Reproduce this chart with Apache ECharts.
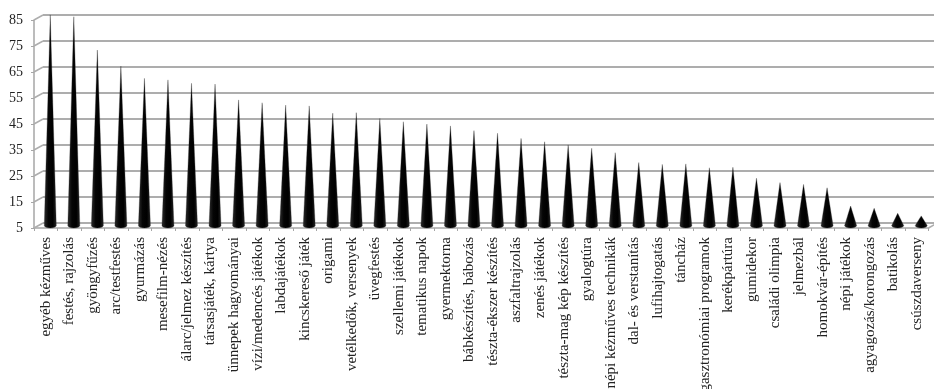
<!DOCTYPE html>
<html>
<head>
<meta charset="utf-8">
<script src="https://cdn.jsdelivr.net/npm/echarts@6/dist/echarts.min.js"></script>
<style>
  html, body { margin: 0; padding: 0; background: #fff; }
  #chart { width: 934px; height: 389px; }
</style>
</head>
<body>
<div id="chart"></div>
<script>
// Activities, most popular first
const categories = [
  'egyéb kézműves', 'festés, rajzolás', 'gyöngyfűzés', 'arc/testfestés', 'gyurmázás',
  'mesefilm-nézés', 'álarc/jelmez készítés', 'társasjáték, kártya', 'ünnepek hagyományai',
  'vízi/medencés játékok', 'labdajátékok', 'kincskereső játék', 'origami',
  'vetélkedők, versenyek', 'üvegfestés', 'szellemi játékok', 'tematikus napok',
  'gyermektorna', 'bábkészítés, bábozás', 'tészta-ékszer készítés', 'aszfaltrajzolás',
  'zenés játékok', 'tészta-mag kép készítés', 'gyalogtúra', 'népi kézműves technikák',
  'dal- és verstanítás', 'lufihajtogatás', 'táncház', 'gasztronómiai programok',
  'kerékpártúra', 'gumidekor', 'családi olimpia', 'jelmezbál', 'homokvár-építés',
  'népi játékok', 'agyagozás/korongozás', 'batikolás', 'csúszdaverseny'
];
const values = [
  86, 85.3, 72.5, 66.3, 61.6, 61, 59.7, 59.4, 53.3, 52.2, 51.3, 51,
  48.2, 48.4, 46.2, 44.9, 44, 43.3, 41.5, 40.5, 38.5, 37.2, 36, 34.7, 33,
  29.2, 28.5, 28.7, 27.2, 27.4, 23.2, 21.5, 20.8, 19.5, 12.5, 11.6, 9.7, 8.7
];
const yMin = 5, yMax = 85, yStep = 10;
const yTicks = [5, 15, 25, 35, 45, 55, 65, 75, 85];

// depth of the box: back wall sits up and right of the front edge
const DX = 9, DY = -5;
const CONE_R = 6;
const FONT = '"Liberation Serif", "Times New Roman", serif';
const GRID_COLOR = '#adadad';

const plotW = 894.5, plotH = 208;

const chart = echarts.init(document.getElementById('chart'), null, { renderer: 'canvas' });

const valueAxisBase = { type: 'value', min: yMin, max: yMax, interval: yStep };
const gridBase = { width: plotW, height: plotH, containLabel: false, outerBoundsMode: 'none' };

chart.setOption({
  backgroundColor: '#ffffff',
  animation: false,
  grid: [
    Object.assign({ left: 34, top: 20 }, gridBase),                     // front edge
    Object.assign({ left: 34 + DX / 2, top: 20 + DY / 2 }, gridBase),   // mid depth (cones)
    Object.assign({ left: 34 + DX, top: 20 + DY }, gridBase)            // back wall
  ],
  xAxis: [
    {
      type: 'category', gridIndex: 0, data: categories,
      axisLine: { show: true, lineStyle: { color: '#a6a6a6', width: 1.5 } },
      axisTick: { show: true, length: 3, lineStyle: { color: '#a6a6a6' } },
      axisLabel: {
        interval: 0, rotate: 90, margin: 9, hideOverlap: false,
        fontFamily: FONT, fontSize: 15, color: '#222222'
      },
      splitLine: { show: false }
    },
    { type: 'category', gridIndex: 1, data: categories, show: false },
    { type: 'category', gridIndex: 2, data: categories, show: false }
  ],
  yAxis: [
    Object.assign({}, valueAxisBase, {
      gridIndex: 0,
      axisLine: { show: true, lineStyle: { color: '#a6a6a6', width: 1.5 } },
      axisTick: { show: true, length: 3, lineStyle: { color: '#a6a6a6' } },
      axisLabel: { margin: 11, fontFamily: FONT, fontSize: 14, color: '#222222' },
      splitLine: { show: false }
    }),
    Object.assign({}, valueAxisBase, { gridIndex: 1, show: false, splitLine: { show: false } }),
    Object.assign({}, valueAxisBase, {
      gridIndex: 2,
      axisLine: { show: false }, axisTick: { show: false }, axisLabel: { show: false },
      splitLine: { show: true, lineStyle: { color: GRID_COLOR, width: 2 } }
    })
  ],
  series: [
    {
      // short slanted side-wall lines joining the front value ticks to the back gridlines
      type: 'custom', xAxisIndex: 0, yAxisIndex: 0, silent: true, z: 1,
      data: yTicks.map(v => [0, v]),
      renderItem: function (params, api) {
        const p = api.coord([0, api.value(1)]);
        const half = api.size([1, 0])[0] / 2;
        const x0 = p[0] - half;
        return {
          type: 'line',
          shape: { x1: x0, y1: p[1], x2: x0 + DX, y2: p[1] + DY },
          style: { stroke: GRID_COLOR, lineWidth: 1.5 }
        };
      }
    },
    {
      // right-hand floor edge
      type: 'custom', xAxisIndex: 0, yAxisIndex: 0, silent: true, z: 1,
      data: [[categories.length - 1, yMin]],
      renderItem: function (params, api) {
        const p = api.coord([api.value(0), api.value(1)]);
        const half = api.size([1, 0])[0] / 2;
        const x0 = p[0] + half;
        return {
          type: 'line',
          shape: { x1: x0, y1: p[1], x2: x0 + DX, y2: p[1] + DY },
          style: { stroke: GRID_COLOR, lineWidth: 1.5 }
        };
      }
    },
    {
      // cones
      type: 'custom', xAxisIndex: 1, yAxisIndex: 1, z: 5,
      data: values.map((v, i) => [i, v]),
      renderItem: function (params, api) {
        const i = api.value(0);
        const base = api.coord([i, yMin]);
        const tip = api.coord([i, api.value(1)]);
        const x = base[0], yb = base[1];
        const d = 'M' + (x - CONE_R) + ' ' + yb +
          ' L' + x + ' ' + tip[1] +
          ' L' + (x + CONE_R) + ' ' + yb +
          ' A' + CONE_R + ' 2.5 0 0 1 ' + (x - CONE_R) + ' ' + yb + ' Z';
        return {
          type: 'path',
          shape: { pathData: d },
          style: {
            fill: new echarts.graphic.LinearGradient(0, 0, 1, 0, [
              { offset: 0, color: '#2e2e2e' },
              { offset: 0.35, color: '#050505' },
              { offset: 0.7, color: '#000000' },
              { offset: 1, color: '#262626' }
            ]),
            stroke: 'rgba(40,40,40,0.5)',
            lineWidth: 0.6
          }
        };
      }
    }
  ]
});
</script>
</body>
</html>
